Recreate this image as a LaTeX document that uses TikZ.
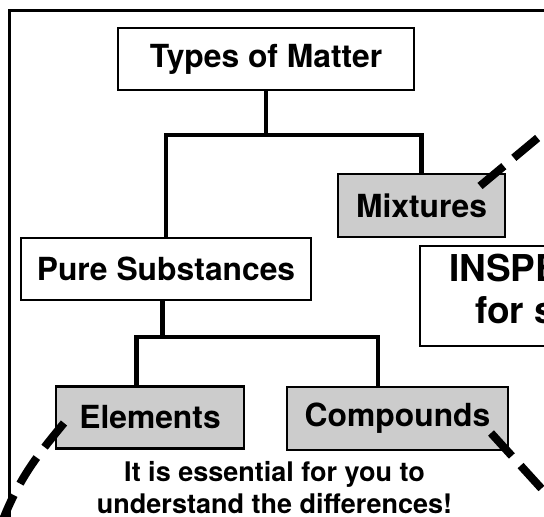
\documentclass[tikz,border=0pt]{standalone}
\usepackage{fontspec}
\setmainfont{TeX Gyre Heros}
\usetikzlibrary{positioning}
\definecolor{boxgray}{RGB}{204,204,204}
\tikzset{
	box/.style={draw, line width=2.2pt, inner sep=0pt, font=\fontsize{31.8}{36}\selectfont\bfseries},
	graybox/.style={box, fill=boxgray},
	conn/.style={line width=4.5pt},
	dashline/.style={line width=8pt, dash pattern=on 31pt off 13pt},
	note/.style={inner sep=0pt, font=\fontsize{27}{32}\selectfont\bfseries},
	bigtext/.style={inner sep=0pt, font=\fontsize{37}{42}\selectfont\bfseries}
}

\begin{document}
\begin{tikzpicture}[x=1pt, y=-1pt]
			\useasboundingbox (0,0) rectangle (544,517);
			\clip (0,0) rectangle (544,517);
			\draw [line width=2.8pt] (9.5,10.5) rectangle (620,620);

			\node [box, minimum width=296pt, minimum height=62pt] (types) at (266,59) {Types of Matter};
			\node [graybox, minimum width=167pt, minimum height=63pt] (mixtures) at (421.5,205.5) {Mixtures};
			\node [box, minimum width=290pt, minimum height=62.5pt] (pure) at (166,269) {Pure Substances};
			\node [graybox, minimum width=188pt, minimum height=62pt] (elements) at (150,417.5) {Elements};
			\node [graybox, minimum width=221pt, minimum height=63pt] (compounds) at (397.5,418.5) {Compounds};
			\node [box, anchor=north west, minimum width=300pt, minimum height=100pt] (inspect) at (419,245) {};
			\node [bigtext, anchor=base west] (inspect1) at (449,281.7) {INSPE};
			\node [bigtext, anchor=base west] (inspect2) at (475,323) {for s};
			\node [note, anchor=base] (note1) at (274.5,481) {It is essential for you to};
			\node [note, anchor=base] (note2) at (274.5,513) {understand the differences!};

			\coordinate (tbar) at (266,135);
			\coordinate (pbar) at (162.5,337);
			\coordinate (pleft) at (136.5,337);
			\coordinate (pright) at (378,337);

			\draw [conn] (types) to (tbar);
			\draw [conn] (pure) |- (tbar) -| (mixtures);
			\draw [conn] (pure.south -| pbar) to (pbar);
			\draw [conn] (elements.north -| pleft) -- (pleft) -- (pright) -- (compounds.north -| pright);

			\coordinate (mixend) at (600,86);
			\coordinate (elemend) at (-6,545);
			\coordinate (compend) at (600,553);
			\draw [dashline] (480,186) to (mixend);
			\draw [dashline] (64,423) .. controls (38,455) and (14,482) .. (elemend);
			\draw [dashline] (491,433) to (compend);
	\end{tikzpicture}
\end{document}
